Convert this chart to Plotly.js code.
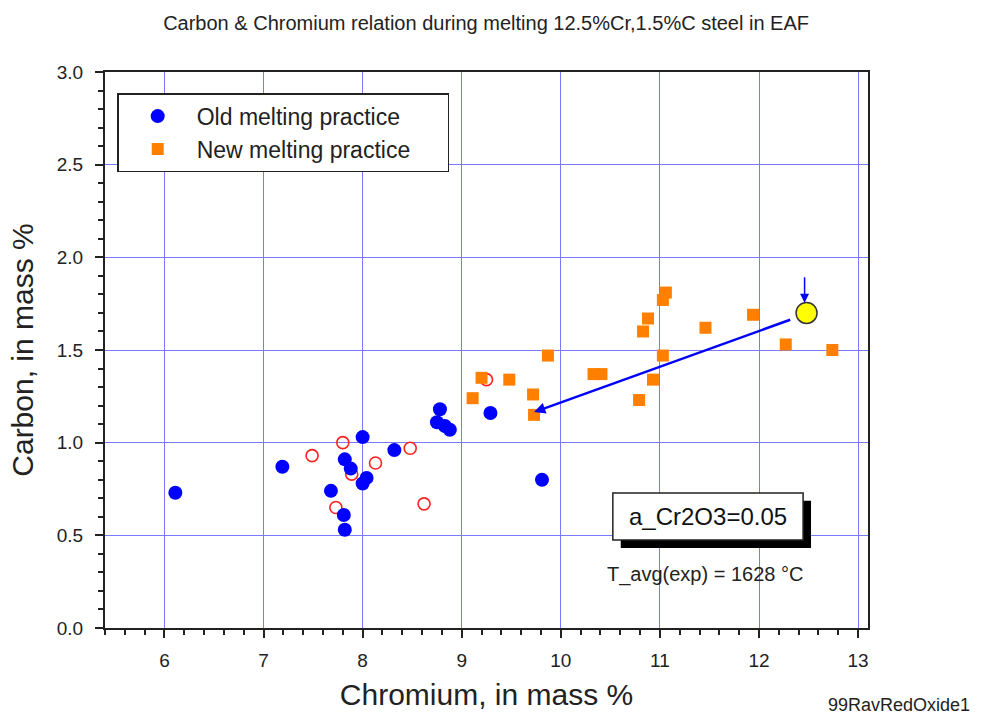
<!DOCTYPE html>
<html>
<head>
<meta charset="utf-8">
<script src="https://cdn.plot.ly/plotly-3.0.1.min.js"></script>
<style>html,body{margin:0;padding:0;background:#fff;}#chart{width:992px;height:718px;}</style>
</head>
<body>
<div id="chart"></div>
<script>
// Old melting practice (filled blue circles)
const oldCr = [6.11, 7.19, 7.68, 7.82, 7.88, 7.81, 7.82, 8.00, 8.04, 8.00, 8.32, 8.78, 8.75, 8.83, 8.88, 9.29, 9.81];
const oldC  = [0.73, 0.87, 0.74, 0.91, 0.86, 0.61, 0.53, 1.03, 0.81, 0.78, 0.96, 1.18, 1.11, 1.09, 1.07, 1.16, 0.80];
// Open red circles (not in legend)
const openCr = [7.49, 7.80, 7.89, 7.73, 8.13, 8.48, 8.62, 9.25];
const openC  = [0.93, 1.00, 0.83, 0.65, 0.89, 0.97, 0.67, 1.34];
// New melting practice (orange squares)
const newCr = [9.11, 9.20, 9.48, 9.72, 9.73, 9.87, 10.33, 10.41, 10.79, 10.83, 10.88, 10.93, 11.03, 11.03, 11.06, 11.46, 11.94, 12.27, 12.74];
const newC  = [1.24, 1.35, 1.34, 1.26, 1.15, 1.47, 1.37, 1.37, 1.23, 1.60, 1.67, 1.34, 1.47, 1.77, 1.81, 1.62, 1.69, 1.53, 1.50];
// Target point
const targetCr = [12.48];
const targetC  = [1.70];
// Trend arrow (from, to)
const trendCr = [12.33, 9.73];
const trendC  = [1.666, 1.165];
const xTicks = [6, 7, 8, 9, 10, 11, 12, 13];
const yTicks = [0.0, 0.5, 1.0, 1.5, 2.0, 2.5, 3.0];

const BLUE = '#0000ff', ORANGE = '#ff8000', RED = '#ff2020', GRID = '#7a7aff';
const FONT = 'Liberation Sans, Arial, sans-serif';
const TXT = '#222';

const traces = [
  {x: openCr, y: openC, mode: 'markers', type: 'scatter', showlegend: false,
   marker: {symbol: 'circle-open', size: 12, color: RED, line: {width: 1.6, color: RED}}},
  {x: oldCr, y: oldC, mode: 'markers', type: 'scatter', name: 'Old melting practice\u00a0\u00a0\u00a0\u00a0\u00a0',
   marker: {symbol: 'circle', size: 14, color: BLUE}},
  {x: newCr, y: newC, mode: 'markers', type: 'scatter', name: 'New melting practice\u00a0\u00a0\u00a0\u00a0\u00a0',
   marker: {symbol: 'square', size: 12, color: ORANGE}},
  {x: targetCr, y: targetC, mode: 'markers', type: 'scatter', showlegend: false,
   marker: {symbol: 'circle', size: 21, color: '#ffff00', line: {width: 1.5, color: '#333333'}}}
];

const layout = {
  width: 992, height: 718,
  margin: {l: 105, r: 124, t: 72, b: 90},
  paper_bgcolor: '#ffffff', plot_bgcolor: '#ffffff',
  font: {family: FONT, color: TXT},
  title: {text: 'Carbon & Chromium relation during melting 12.5%Cr,1.5%C steel in EAF',
          font: {size: 20, family: FONT, color: TXT}, x: 0.49, xanchor: 'center', y: 0.968, yanchor: 'middle'},
  xaxis: {range: [5.4, 13.1], tickvals: xTicks, ticktext: xTicks.map(String),
          showgrid: true, gridcolor: GRID, gridwidth: 1, zeroline: false,
          showline: true, linecolor: TXT, linewidth: 2, mirror: true,
          ticks: 'outside', ticklen: 8, tickwidth: 1.5, tickcolor: TXT, ticklabelstandoff: 6,
          minor: {dtick: 0.2, tick0: 0, ticks: 'outside', ticklen: 5, tickwidth: 1.5, tickcolor: TXT, showgrid: false},
          tickfont: {size: 19, family: FONT, color: TXT},
          title: {text: 'Chromium, in mass %', font: {size: 30, family: FONT, color: TXT}, standoff: 14}},
  yaxis: {range: [0, 3], tickvals: yTicks, ticktext: yTicks.map(v => v.toFixed(1)),
          showgrid: true, gridcolor: GRID, gridwidth: 1, zeroline: false,
          showline: true, linecolor: TXT, linewidth: 2, mirror: true,
          ticks: 'outside', ticklen: 8, tickwidth: 1.5, tickcolor: TXT, ticklabelstandoff: 8,
          minor: {dtick: 0.1, tick0: 0, ticks: 'outside', ticklen: 5, tickwidth: 1.5, tickcolor: TXT, showgrid: false},
          tickfont: {size: 19, family: FONT, color: TXT},
          title: {text: 'Carbon, in mass %', font: {size: 30, family: FONT, color: TXT}, standoff: 14}},
  legend: {x: 0.016, y: 0.962, xanchor: 'left', yanchor: 'top',
           bgcolor: '#ffffff', bordercolor: TXT, borderwidth: 1.5,
           font: {size: 23, family: FONT, color: TXT}, itemwidth: 68},
  shapes: [
    {type: 'rect', xref: 'x', yref: 'y', x0: 10.605, x1: 12.525, y0: 0.432, y1: 0.686,
     fillcolor: '#000', line: {width: 0}, layer: 'above'},
    {type: 'rect', xref: 'x', yref: 'y', x0: 10.525, x1: 12.445, y0: 0.475, y1: 0.729,
     fillcolor: '#fff', line: {width: 1.5, color: TXT}, layer: 'above'}
  ],
  annotations: [
    {x: trendCr[1], y: trendC[1], ax: trendCr[0], ay: trendC[0], xref: 'x', yref: 'y', axref: 'x', ayref: 'y',
     text: '', showarrow: true, arrowhead: 2, arrowsize: 0.9, arrowwidth: 2.5, arrowcolor: BLUE},
    {x: 12.46, y: 1.755, ax: 12.46, ay: 1.90, xref: 'x', yref: 'y', axref: 'x', ayref: 'y',
     text: '', showarrow: true, arrowhead: 2, arrowsize: 1.2, arrowwidth: 1.5, arrowcolor: BLUE},
    {x: 11.485, y: 0.60, xref: 'x', yref: 'y', text: 'a_Cr2O3=0.05', showarrow: false,
     font: {size: 24, family: FONT, color: '#111'}},
    {x: 11.45, y: 0.287, xref: 'x', yref: 'y', text: 'T_avg(exp) = 1628 °C', showarrow: false,
     font: {size: 20, family: FONT, color: TXT}},
    {x: 1.136, y: -0.138, xref: 'paper', yref: 'paper', xanchor: 'right', yanchor: 'middle',
     text: '99RavRedOxide1', showarrow: false, font: {size: 18, family: FONT, color: TXT}}
  ]
};

Plotly.newPlot('chart', traces, layout, {displayModeBar: false, responsive: false});
</script>
</body>
</html>
